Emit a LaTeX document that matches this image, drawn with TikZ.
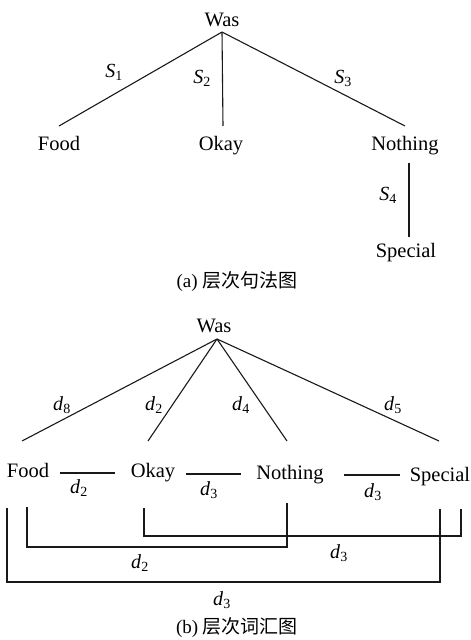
\documentclass[tikz,border=0pt]{standalone}
\usepackage{fontspec}
\setmainfont{Liberation Serif}
\newfontfamily\cjk{Noto Sans CJK SC}
\newcommand{\lbl}[2]{\textit{#1}\textsubscript{#2}}
\begin{document}
\begin{tikzpicture}[x=1pt,y=-1pt,
  word/.style={anchor=base,inner sep=0pt,font=\fontsize{20.5}{24}\selectfont},
  elab/.style={anchor=base,inner sep=0pt,font=\fontsize{20}{24}\selectfont},
  captext/.style={anchor=base,inner sep=0pt,font=\fontsize{19}{24}\selectfont},
  link/.style={line width=1.1pt,black!90}]
\useasboundingbox (0,0) rectangle (471,640);
% ---- (a) ----
\node[word] (wa) at (222,26) {Was};
\node[word] (fa) at (59,150) {Food};
\node[word] (oa) at (221,150) {Okay};
\node[word] (na) at (405,150) {Nothing};
\node[word] (sa) at (406,257) {Special};
\coordinate (apa) at (222,32);
\coordinate (fae) at (59,126);
\coordinate (oae) at (223,126);
\coordinate (nae) at (405,126);
\coordinate (n4t) at (409,163);
\coordinate (n4b) at (409,237);
\draw[link] (apa) -- (fae);
\draw[link] (apa) -- (oae);
\draw[link] (apa) -- (nae);
\draw[link] (n4t) -- (n4b);
\node[elab] (s1) at (114,77) {\lbl{S}{1}};
\node[elab] (s2) at (202,83) {\lbl{S}{2}};
\node[elab] (s3) at (343,83) {\lbl{S}{3}};
\node[elab] (s4) at (388,200) {\lbl{S}{4}};
\node[captext] (capa) at (237,287) {(a) {\cjk 层次句法图}};
% ---- (b) ----
\node[word] (wb) at (214,332) {Was};
\node[word] (fb) at (28,477) {Food};
\node[word] (ob) at (153,477) {Okay};
\node[word] (nb) at (290,479) {Nothing};
\node[word] (sb) at (440,481) {Special};
\coordinate (apb) at (217,339);
\coordinate (fbe) at (22,441);
\coordinate (obe) at (148,441);
\coordinate (nbe) at (287,441);
\coordinate (sbe) at (439,441);
\draw[link] (apb) -- (fbe);
\draw[link] (apb) -- (obe);
\draw[link] (apb) -- (nbe);
\draw[link] (apb) -- (sbe);
\node[elab] (d8) at (62,410) {\lbl{d}{8}};
\node[elab] (d2a) at (154,410) {\lbl{d}{2}};
\node[elab] (d4) at (241,410) {\lbl{d}{4}};
\node[elab] (d5) at (393,410) {\lbl{d}{5}};
% horizontal links
\coordinate (h1a) at (60,473); \coordinate (h1b) at (115,473);
\coordinate (h2a) at (186,474); \coordinate (h2b) at (241,474);
\coordinate (h3a) at (344,475); \coordinate (h3b) at (400,475);
\draw[link] (h1a) -- (h1b);
\draw[link] (h2a) -- (h2b);
\draw[link] (h3a) -- (h3b);
\node[elab] (d2b) at (79,493) {\lbl{d}{2}};
\node[elab] (d3a) at (209,495) {\lbl{d}{3}};
\node[elab] (d3b) at (373,497) {\lbl{d}{3}};
% brackets
\coordinate (b1a) at (27,507); \coordinate (b1b) at (287,503);
\draw[link] (b1a) |- (287,547) -- (b1b);
\coordinate (b2a) at (144,508); \coordinate (b2b) at (461,509);
\draw[link] (b2a) |- (461,536) -- (b2b);
\coordinate (b3a) at (7,508); \coordinate (b3b) at (440,509);
\draw[link] (b3a) |- (440,582) -- (b3b);
\node[elab] (d2c) at (140,568) {\lbl{d}{2}};
\node[elab] (d3c) at (339,558) {\lbl{d}{3}};
\node[elab] (d3d) at (222,605) {\lbl{d}{3}};
\node[captext] (capb) at (237,633) {(b) {\cjk 层次词汇图}};
\end{tikzpicture}
\end{document}
